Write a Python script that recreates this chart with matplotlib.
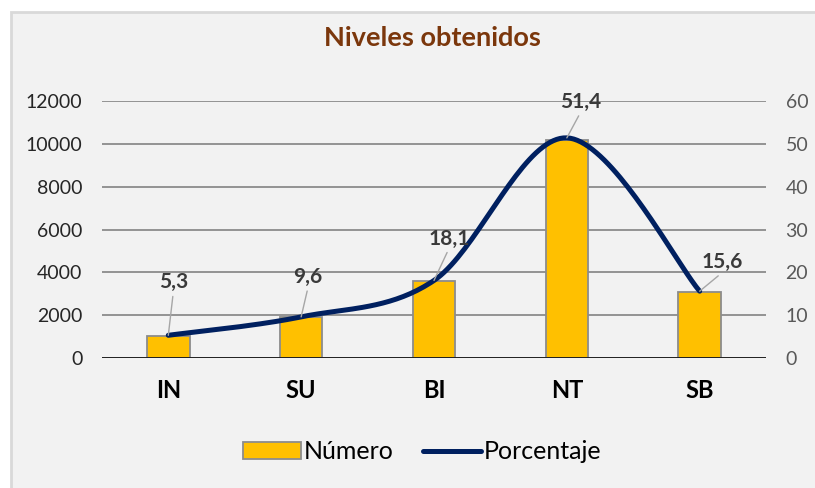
import numpy as np
import matplotlib
matplotlib.use('Agg')
import matplotlib.pyplot as plt
from matplotlib.patches import Rectangle
from matplotlib.lines import Line2D
from matplotlib.patches import Patch

# data
categories = ['IN', 'SU', 'BI', 'NT', 'SB']
numero = [1050, 1900, 3600, 10200, 3100]
porcentaje = [5.3, 9.6, 18.1, 51.4, 15.6]
pct_labels = ['5,3', '9,6', '18,1', '51,4', '15,6']

plt.rcParams['font.family'] = ['Lato', 'DejaVu Sans']

fig = plt.figure(figsize=(8.15, 4.88), dpi=100)
fig.patch.set_facecolor('white')
# chart area background with light border on left/top
fig.patches.append(Rectangle((11/815, -0.1), 1.2, 1.1 - 12/488, transform=fig.transFigure,
                             facecolor='#f2f2f2', edgecolor='#d9d9d9', lw=2, zorder=-1))

ax = fig.add_axes([0.125, 0.2664, 0.815, 0.5266])
ax.set_facecolor('none')
ax2 = ax.twinx()

x = np.arange(len(categories))
ax.bar(x, numero, width=0.32, color='#FFC000', edgecolor='#8c8c8c', lw=1.3, zorder=3)

# smoothed line (catmull-rom style, like Excel's smoothed line)
def smooth(xs, ys, n=40):
    xs = np.asarray(xs, float); ys = np.asarray(ys, float)
    px = np.concatenate([[xs[0]], xs, [xs[-1]]])
    py = np.concatenate([[ys[0]], ys, [ys[-1]]])
    ox, oy = [], []
    for i in range(1, len(px) - 2):
        p0 = np.array([px[i-1], py[i-1]]); p1 = np.array([px[i], py[i]])
        p2 = np.array([px[i+1], py[i+1]]); p3 = np.array([px[i+2], py[i+2]])
        c1 = p1 + (p2 - p0) / 6
        c2 = p2 - (p3 - p1) / 6
        t = np.linspace(0, 1, n)[:, None]
        b = (1-t)**3*p1 + 3*(1-t)**2*t*c1 + 3*(1-t)*t**2*c2 + t**3*p2
        ox.extend(b[:, 0]); oy.extend(b[:, 1])
    return ox, oy

sx, sy = smooth(x, porcentaje)
ax2.plot(sx, sy, color='#002060', lw=3.6, solid_capstyle='round', zorder=4)

offsets = [(5, 53), (7, 40), (15, 42), (14, 36), (23, 29)]
for xi, yi, lab, off in zip(x, porcentaje, pct_labels, offsets):
    ax2.annotate(lab, (xi, yi), xytext=off, textcoords='offset pixels',
                 ha='center', va='center', fontsize=15, fontweight='bold', color='#3a3a3a',
                 arrowprops=dict(arrowstyle='-', color='#a6a6a6', lw=1, relpos=(0.5, 0),
                                 shrinkA=1, shrinkB=0), zorder=5)

ax.set_xlim(-0.5, 4.5)
ax.set_ylim(0, 12000)
ax2.set_ylim(0, 60)
ax.set_yticks(range(0, 12001, 2000))
ax2.set_yticks(range(0, 61, 10))
ax.set_xticks(x)
ax.set_xticklabels(categories, fontsize=17, fontweight='bold', color='black')
ax.tick_params(axis='x', length=0, pad=15)
ax.tick_params(axis='y', length=0, pad=14, labelsize=14, labelcolor='#262626')
ax2.tick_params(axis='y', length=0, pad=14, labelsize=14, labelcolor='#595959')

ax.grid(axis='y', color='#8c8c8c', lw=1.3, zorder=0)
ax.set_axisbelow(True)
for a in (ax, ax2):
    for s in ['top', 'right', 'left', 'bottom']:
        a.spines[s].set_visible(False)
ax.axhline(0, color='black', lw=1.8, zorder=5)

fig.text(0.53, 0.922, 'Niveles obtenidos', ha='center', va='center',
         fontsize=19.5, fontweight='bold', color='#7B370C')

handles = [Patch(facecolor='#FFC000', edgecolor='#8c8c8c', lw=1.3),
           Line2D([0], [0], color='#002060', lw=3.6, solid_capstyle='round')]
fig.legend(handles, ['Número', 'Porcentaje'], loc='center', bbox_to_anchor=(0.518, 0.074),
           ncol=2, frameon=False, fontsize=18, handlelength=2.3, handletextpad=0.1,
           columnspacing=1.2)

fig.savefig('out.png', dpi=100, facecolor=fig.get_facecolor())
